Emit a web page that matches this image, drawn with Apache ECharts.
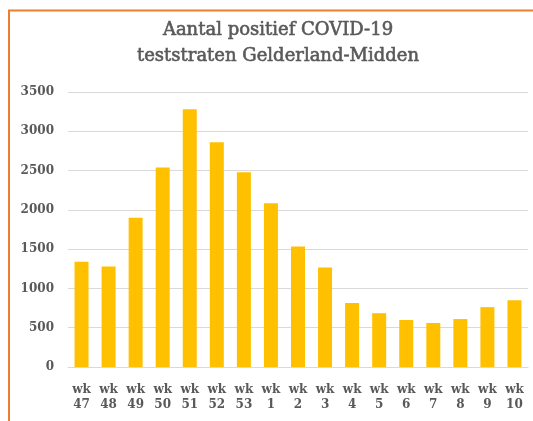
<!DOCTYPE html>
<html>
<head>
<meta charset="utf-8">
<script src="https://cdn.jsdelivr.net/npm/echarts@6/dist/echarts.min.js"></script>
<style>
html, body { margin: 0; padding: 0; background: #fff; }
#chart { width: 533px; height: 421px; }
</style>
</head>
<body>
<div id="chart"></div>
<script>
// weekly positives
var weeks = ['wk\n47', 'wk\n48', 'wk\n49', 'wk\n50', 'wk\n51', 'wk\n52', 'wk\n53',
    'wk\n1', 'wk\n2', 'wk\n3', 'wk\n4', 'wk\n5', 'wk\n6', 'wk\n7', 'wk\n8', 'wk\n9', 'wk\n10'];
var positives = [1340, 1280, 1900, 2540, 3280, 2860, 2480, 2085, 1535, 1265, 815, 685, 598, 560, 610, 762, 850];

var serif = '"DejaVu Serif", "Liberation Serif", serif';
var labelColor = '#595959';

var chart = echarts.init(document.getElementById('chart'));
chart.setOption({
    animation: false,
    title: {
        text: 'Aantal positief COVID-19\nteststraten Gelderland-Midden',
        left: 273,
        top: 12,
        textAlign: 'center',
        textStyle: {
            fontFamily: serif,
            fontSize: 18,
            fontWeight: 'normal',
            color: labelColor,
            textBorderColor: labelColor,
            textBorderWidth: 0.6,
            lineHeight: 26
        }
    },
    graphic: [
        { type: 'line', shape: { x1: 8, y1: 10.5, x2: 533, y2: 10.5 }, style: { stroke: '#ED7D31', lineWidth: 2 } },
        { type: 'line', shape: { x1: 9, y1: 10, x2: 9, y2: 421 }, style: { stroke: '#ED7D31', lineWidth: 2 } }
    ],
    grid: {
        left: 68,
        right: 5,
        top: 92,
        bottom: 54
    },
    xAxis: {
        type: 'category',
        data: weeks,
        axisTick: { show: false },
        axisLine: { lineStyle: { color: '#d9d9d9' } },
        axisLabel: {
            interval: 0,
            margin: 15,
            color: labelColor,
            fontFamily: serif,
            fontWeight: 'bold',
            fontSize: 12,
            lineHeight: 15
        }
    },
    yAxis: {
        type: 'value',
        min: 0,
        max: 3500,
        interval: 500,
        axisLabel: {
            margin: 14,
            color: labelColor,
            fontFamily: serif,
            fontWeight: 'bold',
            fontSize: 12,
            formatter: function (v) { return String(v); }
        },
        splitLine: { lineStyle: { color: '#d9d9d9' } }
    },
    series: [{
        type: 'bar',
        data: positives,
        barWidth: 14,
        itemStyle: { color: '#FFC000' }
    }]
});
</script>
</body>
</html>
